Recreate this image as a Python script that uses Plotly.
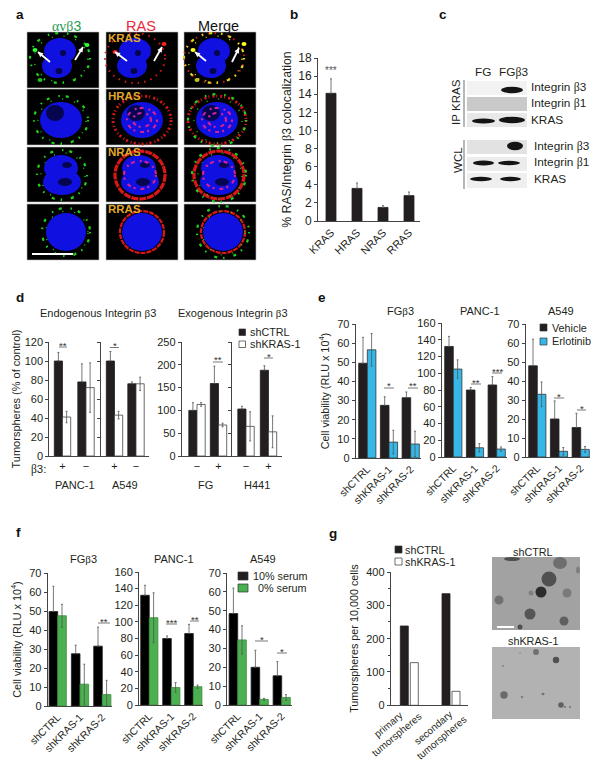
import plotly.graph_objects as go

W, H = 601, 764
FONT = "Liberation Sans"
INK = "#231f20"
GREY = "#444444"
BLUE = "#35b8e8"
GREEN = "#4bb04f"
SERIF = "Liberation Serif"
BETA = f'<span style="font-family:{SERIF}">β</span>'

# ---------- data ----------
b_cats = ["KRAS", "HRAS", "NRAS", "RRAS"]
b_vals = [14.1, 3.6, 1.5, 2.8]
b_errs = [1.6, 0.6, 0.2, 0.4]

d_cats_pm = ["+", "−"]
d_cats_mp = ["−", "+"]
d_panc_ctrl, d_panc_ctrl_err = [100, 78], [9, 19]
d_panc_kd, d_panc_kd_err = [41, 72], [6, 26]
d_a549_ctrl, d_a549_ctrl_err = [100, 76], [10, 2]
d_a549_kd, d_a549_kd_err = [43, 76], [4, 7]
d_fg_ctrl, d_fg_ctrl_err = [100, 159], [17, 38]
d_fg_kd, d_fg_kd_err = [113, 68], [4, 4]
d_h441_ctrl, d_h441_ctrl_err = [103, 188], [6, 10]
d_h441_kd, d_h441_kd_err = [65, 53], [32, 35]

sh_cats = ["shCTRL", "shKRAS-1", "shKRAS-2"]
e_fg_veh, e_fg_veh_err = [49.5, 27.5, 31.5], [13.5, 4.5, 3]
e_fg_erl, e_fg_erl_err = [56.5, 8.3, 7.3], [8.5, 6.2, 6.7]
e_panc_veh, e_panc_veh_err = [132, 80, 86], [12, 3, 10]
e_panc_erl, e_panc_erl_err = [105, 11, 9.5], [11, 5, 2.5]
e_a549_veh, e_a549_veh_err = [48, 20, 15.5], [14, 9.5, 7.5]
e_a549_erl, e_a549_erl_err = [33, 3, 4], [6.5, 2, 1.5]

f_fg_10, f_fg_10_err = [49.7, 27.5, 31.5], [13.3, 4.5, 10]
f_fg_0, f_fg_0_err = [47.5, 11.5, 6], [6, 10.5, 7.5]
f_panc_10, f_panc_10_err = [132, 80, 86], [12, 3, 11]
f_panc_0, f_panc_0_err = [105, 21, 22], [30, 6, 2]
f_a549_10, f_a549_10_err = [48.5, 20, 15.5], [13.5, 9, 7.5]
f_a549_0, f_a549_0_err = [34.5, 3, 4], [7.5, 0.5, 1.5]

g_cats = ["primary<br>tumorspheres", "secondary<br>tumorspheres"]
g_ctrl = [238, 335]
g_kd = [128, 42]

# ---------- helpers ----------
fig = go.Figure()
layout_axes = {}
shapes, annots = [], []
n_ax = 0


def px(x):
    return x / W


def py(y):
    return 1 - y / H


def text(x, y, s, size=11, color=INK, anchor="center", bold=False, angle=0):
    annots.append(dict(x=px(x), y=py(y), xref="paper", yref="paper", text=f"<b>{s}</b>" if bold else s,
                       showarrow=False, xanchor=anchor, yanchor="middle", textangle=angle,
                       font=dict(family=FONT, size=size, color=color)))


def rect(x0, y0, x1, y1, fill, line=None, lw=1):
    shapes.append(dict(type="rect", xref="paper", yref="paper", x0=px(x0), x1=px(x1), y0=py(y0), y1=py(y1),
                       fillcolor=fill, line=dict(color=line or fill, width=lw if line else 0)))


def ell(cx, cy, rx, ry, fill=None, line=None, lw=1, dash=None):
    ln = dict(color=line or "rgba(0,0,0,0)", width=lw if line else 0)
    if dash:
        ln["dash"] = dash
    shapes.append(dict(type="circle", xref="paper", yref="paper", x0=px(cx - rx), x1=px(cx + rx),
                       y0=py(cy - ry), y1=py(cy + ry), fillcolor=fill or "rgba(0,0,0,0)", line=ln))


def seg(x0, y0, x1, y1, color=GREY, lw=1):
    shapes.append(dict(type="line", xref="paper", yref="paper", x0=px(x0), x1=px(x1), y0=py(y0), y1=py(y1),
                       line=dict(color=color, width=lw)))


def arrow(hx, hy, tx, ty):
    seg(tx, ty, hx, hy, "white", 1.8)
    dx, dy = tx - hx, ty - hy
    n = (dx * dx + dy * dy) ** 0.5
    ux, uy = dx / n, dy / n
    bx, by = hx + ux * 5, hy + uy * 5
    ax, ay = bx - uy * 2.6, by + ux * 2.6
    cx, cy = bx + uy * 2.6, by - ux * 2.6
    path = f"M {px(hx)} {py(hy)} L {px(ax)} {py(ay)} L {px(cx)} {py(cy)} Z"
    shapes.append(dict(type="path", xref="paper", yref="paper", path=path, fillcolor="white", line=dict(width=0)))


def bracket(x0, x1, y, stars):
    seg(x0, y, x1, y, "#555555", 0.8)
    text((x0 + x1) / 2, y - 2, stars, size=9.5, color="#333333")


def legend_item(x0, y0, size_w, size_h, fill, tx, label, size=10.8):
    rect(x0, y0, x0 + size_w, y0 + size_h, fill, line="#333333", lw=0.7)
    text(tx, y0 + size_h / 2, label, size=size, anchor="left")


def panel(cats, series, x0, x1, y_zero, y_top, ymax, dtick, centers, bar_w, ylabels=True, xlabels=True,
          ytitle=None, standoff=4, tick_angle=None, minor=None, gap=0, title_size=10.8, tick_size=11,
          xtick_size=10.5):
    global n_ax
    n_ax += 1
    xa, ya = f"x{n_ax}", f"y{n_ax}"
    band = centers[1] - centers[0]
    lo, hi = (x0 - centers[0]) / band, (x1 - centers[0]) / band
    w = bar_w / band
    g = gap / band
    for i, (vals, errs, color, edge) in enumerate(series):
        eb = None
        if errs is not None:
            up_only = color in (INK, "#000000")
            eb = dict(type="data", array=errs, arrayminus=[0] * len(errs) if up_only else errs,
                      symmetric=False, color="#555555", thickness=0.8, width=1)
        off = -w / 2 if len(series) == 1 else ((-w - g / 2) if i == 0 else g / 2)
        fig.add_trace(go.Bar(x=cats, y=vals, xaxis=xa, yaxis=ya, width=w, offset=off,
                             marker=dict(color=color, line=dict(color=edge, width=0.8)),
                             error_y=eb, showlegend=False))
    xdict = dict(domain=[px(x0), px(x1)], anchor=ya, type="category", range=[lo, hi], showgrid=False, zeroline=False,
                 showline=True, linecolor=GREY, linewidth=1, ticks="", ticklen=0, fixedrange=True,
                 showticklabels=xlabels, tickfont=dict(family=FONT, size=xtick_size, color=INK))
    if tick_angle is not None:
        xdict["tickangle"] = tick_angle
    ydict = dict(domain=[py(y_zero), py(y_top)], anchor=xa, range=[0, ymax], dtick=dtick, tick0=0, showgrid=False,
                 zeroline=False, showline=True, linecolor=GREY, linewidth=1, ticks="outside", ticklen=3,
                 tickcolor=GREY, showticklabels=ylabels, fixedrange=True,
                 tickfont=dict(family=FONT, size=tick_size, color=INK))
    if ytitle:
        ydict["title"] = dict(text=ytitle, standoff=standoff, font=dict(family=FONT, size=title_size, color=INK))
    if minor:
        ydict["minor"] = dict(dtick=minor, ticks="outside", ticklen=2, tickcolor=GREY, showgrid=False)
    layout_axes[f"xaxis{n_ax}"] = xdict
    layout_axes[f"yaxis{n_ax}"] = ydict


# ---------- panel a : microscopy sketch ----------
a_cols = [(27, 99), (106, 178), (184, 256)]
a_rows = [(32, 88), (89, 145), (147, 202), (204, 260)]
a_centers = [[(60, 58), (135, 58), (214, 58)],
             [(61, 120), (142, 120), (217, 120)],
             [(62, 175), (140, 175), (219, 175)],
             [(66, 232), (142, 232), (223, 232)]]
a_nuc = [[(0, -7, 16, 13), (-3, 8, 15, 12)], [(0, 0, 21, 18)], [(-1, -7, 17, 13), (0, 7, 19, 13)], [(0, 0, 20, 19)]]
a_dark = [[(3, -5, 3, 3), (-1, 13, 3.5, 3)], [(-6, -7, 9, 8)], [(5, -10, 5, 3), (3, 7, 7, 4)], []]
a_green_ring = [(30, 25), (27, 24), (25, 25), (24, 24)]
a_red_ring = [(30, 25, 2, "1.5px,5px"), (29, 24, 3, "2px,2px,1px,3px"), (25, 24, 3.2, "7px,1px"),
              (22, 21, 2.2, "5px,1px")]
a_inner = [[], [(15, 12), (9, 7)], [(16, 14)], []]
for r, (y0, y1) in enumerate(a_rows):
    for c, (x0, x1) in enumerate(a_cols):
        rect(x0, y0, x1, y1, "#000000", line="#bbbbbb", lw=0.6)
        cx, cy = a_centers[r][c]
        if c in (1, 2):
            rx, ry, lw, dash = a_red_ring[r]
            ell(cx, cy, rx, ry, line="#d81818", lw=lw, dash=dash)
        if c in (0, 2):
            rx, ry = a_green_ring[r]
            col = "#d8d820" if (r == 0 and c == 2) else "#20d020"
            ell(cx, cy, rx + (2 if c == 2 and r else 0), ry + (2 if c == 2 and r else 0), line=col, lw=2.2,
                dash="1.5px,6px,3px,9px")
            ell(cx + 1, cy + 1, rx - 3, ry - 2, line=col, lw=1.4, dash="1px,11px")
        for lx, ly, rx, ry in a_nuc[r]:
            ell(cx + lx, cy + ly, rx, ry, fill="#1010e0")
        for lx, ly, rx, ry in a_dark[r]:
            ell(cx + lx, cy + ly, rx, ry, fill="#060650")
        if c in (1, 2):
            for rx, ry in a_inner[r]:
                ell(cx, cy, rx, ry, line="#d0209c", lw=2.2, dash="2px,3px,4px,5px")
# bright spots of the first row
for (x, y, col) in [(35, 50, "#30ff30"), (87, 45, "#30ff30"), (40, 80, "#20c020"), (115, 52, "#ff2020"),
                    (164, 44, "#ff2020"), (193, 50, "#ffff20"), (244, 44, "#ffff20"), (197, 80, "#c0c020")]:
    ell(x, y, 2.5, 2, fill=col)
for hx, hy, tx, ty in [(38, 52, 50, 62), (83, 47, 75, 60), (115, 52, 127, 61), (162, 47, 154, 61),
                       (195, 52, 206, 61), (239, 48, 232, 62)]:
    arrow(hx, hy, tx, ty)
seg(32, 254, 73, 254, "white", 2)
text(66, 26, f'<span style="font-family:{SERIF}">αvβ</span>3', size=14, color="#1f9a55")
text(141, 26, "RAS", size=14.5, color="#e8283c")
text(218, 26, "Merge", size=14.5, color="#111111")
for lab, y in zip(["KRAS", "HRAS", "NRAS", "RRAS"], [38, 96, 152, 209]):
    text(106, y, lab, size=11.5, color="#e0a92b", anchor="left", bold=True)

# ---------- panel b ----------
panel(b_cats, [(b_vals, b_errs, INK, INK)], 318, 420, 221, 58, 18, 2, [331, 357], 10,
      ytitle=f"% RAS/Integrin {BETA}3 colocalization", standoff=3, tick_angle=-45, title_size=12.2, tick_size=12,
      xtick_size=11)
text(331, 71, "***", size=10, color="#555555")

# ---------- panel c : blots sketch ----------
c_rows = [(81, 95, "#f2f2f2"), (97, 111, "#c9c9c9"), (113, 127, "#e8e8e8"),
          (140, 154, "#e2e2e2"), (157, 171, "#ececec"), (173, 188, "#efefef")]
for y0, y1, col in c_rows:
    rect(467, y0, 527, y1, col)
c_bands = [(501, 523, 90, 3.2), (472, 495, 121, 2.6), (499, 525, 120, 3.2), (507, 523, 146, 4.2),
           (473, 494, 163, 2.4), (498, 520, 163, 2.2), (470, 492, 179, 2.2), (500, 521, 179, 2.2)]
for x0, x1, y, h in c_bands:
    ell((x0 + x1) / 2, y, (x1 - x0) / 2, h, fill="#141414")
seg(464, 80, 464, 127, "#999999", 1.4)
seg(464, 140, 464, 189, "#999999", 1.4)
text(483, 72, "FG", size=11.8)
text(513, 72, f"FG{BETA}3", size=11.8)
text(456, 102, "IP KRAS", size=11.6, angle=-90)
text(457, 160, "WCL", size=11.6, angle=-90)
for lab, x, y in [(f"Integrin {BETA}3", 529, 87), (f"Integrin {BETA}1", 529, 103), ("KRAS", 529, 120),
                  (f"Integrin {BETA}3", 532, 146), (f"Integrin {BETA}1", 532, 162), ("KRAS", 532, 179)]:
    text(x, y, lab, size=11.8, anchor="left")

# ---------- panel d ----------
EDGE = "#444444"
panel(d_cats_pm, [(d_panc_ctrl, d_panc_ctrl_err, INK, INK), (d_panc_kd, d_panc_kd_err, "white", EDGE)],
      49.3, 98, 456, 342, 120, 20, [62.5, 86], 8.2, ytitle="Tumorspheres (% of control)", standoff=1, title_size=11,
      xtick_size=11)
panel(d_cats_pm, [(d_a549_ctrl, d_a549_ctrl_err, INK, INK), (d_a549_kd, d_a549_kd_err, "white", EDGE)],
      100.7, 149, 456, 342, 120, 20, [114.5, 136], 8.2, ylabels=False, xtick_size=11)
panel(d_cats_mp, [(d_fg_ctrl, d_fg_ctrl_err, INK, INK), (d_fg_kd, d_fg_kd_err, "white", EDGE)],
      181.7, 231, 456, 342, 250, 50, [197, 218.5], 8.2, xtick_size=11)
panel(d_cats_mp, [(d_h441_ctrl, d_h441_ctrl_err, INK, INK), (d_h441_kd, d_h441_kd_err, "white", EDGE)],
      232, 282, 456, 342, 250, 50, [246, 268.5], 8.2, ylabels=False, xtick_size=11)
text(98, 313, f"Endogenous Integrin {BETA}3")
text(233, 313, f"Exogenous Integrin {BETA}3")
text(38, 469, f"{BETA}3:", size=11.5)
for lab, x in zip(["PANC-1", "A549", "FG", "H441"], [75, 125, 206, 257]):
    text(x, 485, lab, size=11)
for x0, x1, y, s in [(59, 67, 347, "**"), (110, 119, 347.5, "*"), (213, 223, 362, "**"), (264, 273, 358, "*")]:
    bracket(x0, x1, y, s)
legend_item(239, 329, 6.5, 6.5, INK, 248, "shCTRL")
legend_item(239, 341, 6.5, 6.5, "white", 248, "shKRAS-1")

# ---------- panel e ----------
EB = "#333333"
panel(sh_cats, [(e_fg_veh, e_fg_veh_err, INK, INK), (e_fg_erl, e_fg_erl_err, BLUE, EB)],
      355.7, 421, 458, 324, 70, 10, [367.3, 389], 8.6, ytitle="Cell viability (RLU x 10<sup>4</sup>)",
      standoff=5, tick_angle=-45)
panel(sh_cats, [(e_panc_veh, e_panc_veh_err, INK, INK), (e_panc_erl, e_panc_erl_err, BLUE, EB)],
      441.7, 507, 457, 323, 160, 20, [453.3, 475], 8.6, tick_angle=-45)
panel(sh_cats, [(e_a549_veh, e_a549_veh_err, INK, INK), (e_a549_erl, e_a549_erl_err, BLUE, EB)],
      525.7, 590, 457, 324, 70, 10, [537.3, 559], 8.6, tick_angle=-45)
text(400, 311, f"FG{BETA}3")
text(480, 311, "PANC-1")
text(561, 311, "A549")
for x0, x1, y, s in [(384, 394, 388, "*"), (408, 418, 388, "**"), (471, 481, 384, "**"), (492, 502, 373, "***"),
                     (554, 564, 398, "*"), (577, 586, 410, "*")]:
    bracket(x0, x1, y, s)
legend_item(540, 324, 7, 7, INK, 550, "Vehicle")
legend_item(540, 338, 7, 7, BLUE, 550, "Erlotinib")

# ---------- panel f ----------
panel(sh_cats, [(f_fg_10, f_fg_10_err, "#000000", INK), (f_fg_0, f_fg_0_err, GREEN, "#3a8a3e")],
      47.7, 112, 706, 573, 70, 10, [57.7, 80], 8.6, ytitle="Cell viability (RLU x 10<sup>4</sup>)",
      standoff=5, tick_angle=-45)
panel(sh_cats, [(f_panc_10, f_panc_10_err, "#000000", INK), (f_panc_0, f_panc_0_err, GREEN, "#3a8a3e")],
      139, 203, 705, 572, 160, 20, [149.3, 171.3], 8.6, tick_angle=-45)
panel(sh_cats, [(f_a549_10, f_a549_10_err, "#000000", INK), (f_a549_0, f_a549_0_err, GREEN, "#3a8a3e")],
      227, 292, 705, 573, 70, 10, [237.7, 259.7], 8.6, tick_angle=-45)
text(84, 559, f"FG{BETA}3")
text(174, 559, "PANC-1")
text(263, 559, "A549")
for x0, x1, y, s in [(98, 110, 623, "**"), (166, 177, 624, "***"), (190, 199, 621, "**"),
                     (255, 268, 641, "*"), (277, 287, 653, "*")]:
    bracket(x0, x1, y, s)
legend_item(238, 572, 10, 8, INK, 251, "10% serum")
legend_item(238, 584, 10, 8, GREEN, 256, "0% serum")

# ---------- panel g ----------
panel(g_cats, [(g_ctrl, None, INK, INK), (g_kd, None, "white", EDGE)],
      390.7, 468, 705.3, 572, 400, 100, [409.3, 451], 8, ytitle="Tumorspheres per 10,000 cells", standoff=5,
      minor=50, gap=2, title_size=10.8, xlabels=False)
for lab, x, y in zip(g_cats, [392, 437], [730, 733]):
    text(x, y, lab, size=10, angle=-40)
legend_item(395, 546, 7, 7, INK, 403, "shCTRL")
legend_item(395, 558, 7, 7, "white", 403, "shKRAS-1")

rect(492, 557, 580, 630, "#a2a2a2")
rect(492, 647, 580, 719, "#b2b2b2")
g_spheres_ctrl = [(560, 563, 7, 6, "#6e6e6e"), (549, 579, 7.5, 7.5, "#505050"), (541, 592, 5.5, 5.5, "#2c2c2c"),
                  (499, 600, 4.5, 4.5, "#707070"), (530, 614, 5.5, 5.5, "#555555"), (564, 621, 4.5, 4.5, "#606060"),
                  (567, 593, 4.5, 4.5, "#7a7a7a"), (531, 593, 2.5, 2.5, "#808080"), (520, 627, 2.5, 2.5, "#505050"),
                  (512, 559, 8, 2, "#505050"), (578, 570, 2, 3.5, "#808080")]
g_spheres_kd = [(536, 652, 3, 3, "#707070"), (556, 660, 3.2, 3.2, "#505050"), (504, 695, 3.7, 3.7, "#6a6a6a"),
                (561, 705, 2.8, 2.8, "#606060"), (543, 694, 1.5, 1.2, "#707070"), (522, 697, 1.3, 1.3, "#808080"),
                (503, 666, 1, 1, "#808080"), (520, 653, 0.8, 0.8, "#808080"), (570, 707, 0.8, 0.8, "#404040"),
                (565, 707, 0.8, 0.8, "#404040")]
for x, y, rx, ry, col in g_spheres_ctrl + g_spheres_kd:
    ell(x, y, rx, ry, fill=col)
seg(497, 627, 514, 627, "white", 2)
text(533, 552, "shCTRL", size=10.8)
text(533, 641, "shKRAS-1", size=10.8)

# ---------- panel letters ----------
for s, x, y in [("a", 20, 15), ("b", 294, 15), ("c", 443, 15), ("d", 20, 297),
                ("e", 322, 297), ("f", 18, 532), ("g", 333, 533)]:
    text(x, y, s, size=13.5, color="#111111", bold=True)

fig.update_layout(width=W, height=H, margin=dict(l=0, r=0, t=0, b=0, autoexpand=False), paper_bgcolor="white",
                  plot_bgcolor="white", showlegend=False, shapes=shapes, annotations=annots,
                  font=dict(family=FONT, color=INK), **layout_axes)
fig.write_html("out.html", config=dict(displayModeBar=False),
               post_script="document.body.style.margin='0';document.documentElement.style.overflow='hidden';")
